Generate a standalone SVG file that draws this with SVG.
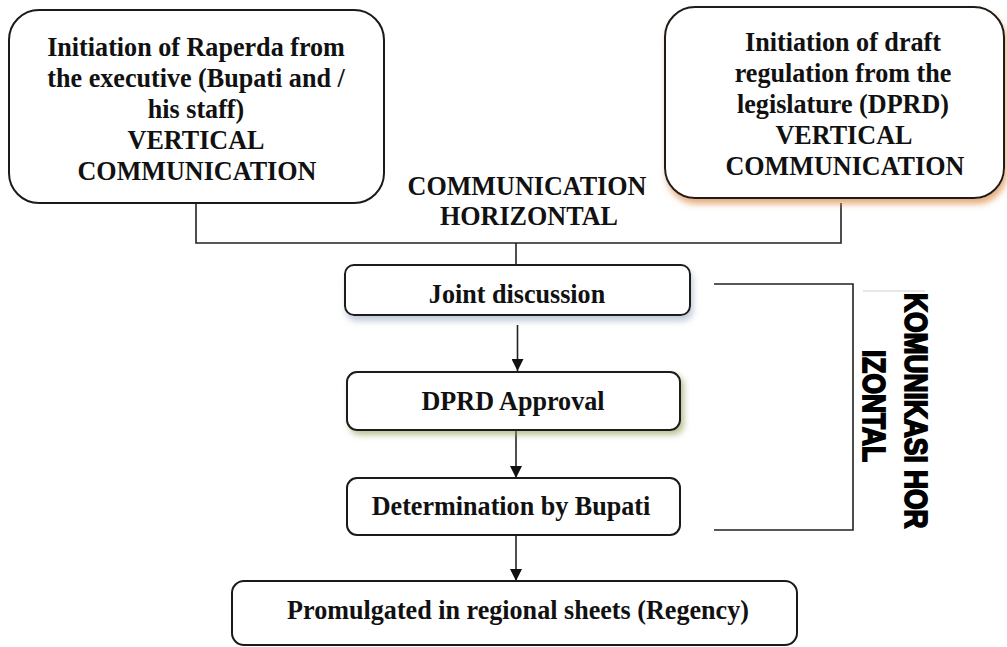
<svg xmlns="http://www.w3.org/2000/svg" width="1007" height="647" viewBox="0 0 1007 647">
  <defs>
    <style>
      .box { fill: #ffffff; stroke: #1a1a1a; stroke-width: 2; }
      .t { font-family: "Liberation Serif", "Times New Roman", serif; font-weight: bold; font-size: 27.5px; fill: #111; text-anchor: middle; }
      .conn { fill: none; stroke: #222; stroke-width: 1.6; }
      .vt { font-family: "Liberation Sans", Arial, sans-serif; font-weight: bold; font-size: 31px; fill: #000; stroke: #000; stroke-width: 1.8; }
    </style>
    <marker id="arrow" markerUnits="userSpaceOnUse" markerWidth="12" markerHeight="12" refX="12" refY="6" orient="auto">
      <path d="M0,0 L12,6 L0,12 z" fill="#111"/>
    </marker>
    <filter id="shOrange" x="-10%" y="-10%" width="125%" height="135%">
      <feDropShadow dx="2" dy="5" stdDeviation="3" flood-color="#d98a4a" flood-opacity="0.7"/>
    </filter>
    <filter id="shBlue" x="-10%" y="-20%" width="125%" height="160%">
      <feDropShadow dx="2" dy="5" stdDeviation="3" flood-color="#9aa8c0" flood-opacity="0.6"/>
    </filter>
    <filter id="shGreen" x="-10%" y="-20%" width="125%" height="160%">
      <feDropShadow dx="3" dy="4" stdDeviation="3" flood-color="#8a9a50" flood-opacity="0.6"/>
    </filter>
  </defs>

  <rect width="1007" height="647" fill="#ffffff"/>

  <g id="connectors">
    <path class="conn" d="M196,203 V243 H841 V203"/>
    <path class="conn" d="M516,243 V265"/>
    <path class="conn" d="M517.5,325 V371" marker-end="url(#arrow)"/>
    <path class="conn" d="M516,431 V478" marker-end="url(#arrow)"/>
    <path class="conn" d="M516,536 V581" marker-end="url(#arrow)"/>
    <path class="conn" d="M714,284 H853 V530 H714"/>
    <path d="M863,291 H925" stroke="#d0d0d0" stroke-width="1" fill="none"/>
  </g>

  <g id="node-executive">
    <rect class="box" x="9" y="10" width="375" height="193" rx="30"/>
    <g transform="translate(196,0) scale(0.95,1)">
      <text class="t" x="0" y="56">Initiation of Raperda from</text>
      <text class="t" x="0" y="87">the executive (Bupati and /</text>
      <text class="t" x="0" y="118">his staff)</text>
      <text class="t" x="0" y="149">VERTICAL</text>
      <text class="t" x="1" y="180">COMMUNICATION</text>
    </g>
  </g>

  <g id="node-legislature">
    <rect class="box" x="665" y="7" width="339" height="191" rx="30" filter="url(#shOrange)"/>
    <g transform="translate(843,0) scale(0.95,1)">
      <text class="t" x="0" y="51">Initiation of draft</text>
      <text class="t" x="0" y="82">regulation from the</text>
      <text class="t" x="0" y="113">legislature (DPRD)</text>
      <text class="t" x="1" y="144">VERTICAL</text>
      <text class="t" x="2" y="175">COMMUNICATION</text>
    </g>
  </g>

  <g id="label-horizontal">
    <g transform="translate(527,0) scale(0.95,1)">
      <text class="t" x="0" y="195">COMMUNICATION</text>
      <text class="t" x="2" y="225">HORIZONTAL</text>
    </g>
  </g>

  <g id="node-joint">
    <rect class="box" x="345" y="265" width="345" height="50" rx="9" filter="url(#shBlue)"/>
    <text class="t" transform="translate(517,303) scale(0.95,1)">Joint discussion</text>
  </g>

  <g id="node-approval">
    <rect class="box" x="347" y="372" width="333" height="58" rx="10" filter="url(#shGreen)"/>
    <text class="t" transform="translate(513,410) scale(0.95,1)">DPRD Approval</text>
  </g>

  <g id="node-determination">
    <rect class="box" x="347" y="478" width="333" height="57" rx="10"/>
    <text class="t" transform="translate(511,515) scale(0.95,1)">Determination by Bupati</text>
  </g>

  <g id="node-promulgated">
    <rect class="box" x="232" y="581" width="565" height="64" rx="12"/>
    <text class="t" transform="translate(518,619) scale(0.95,1)">Promulgated in regional sheets (Regency)</text>
  </g>

  <g id="label-komunikasi">
    <text class="vt" transform="translate(905,293) rotate(90) scale(0.85,1)">KOMUNIKASI HOR</text>
    <text class="vt" transform="translate(863,350) rotate(90) scale(0.85,1)">IZONTAL</text>
  </g>
</svg>
